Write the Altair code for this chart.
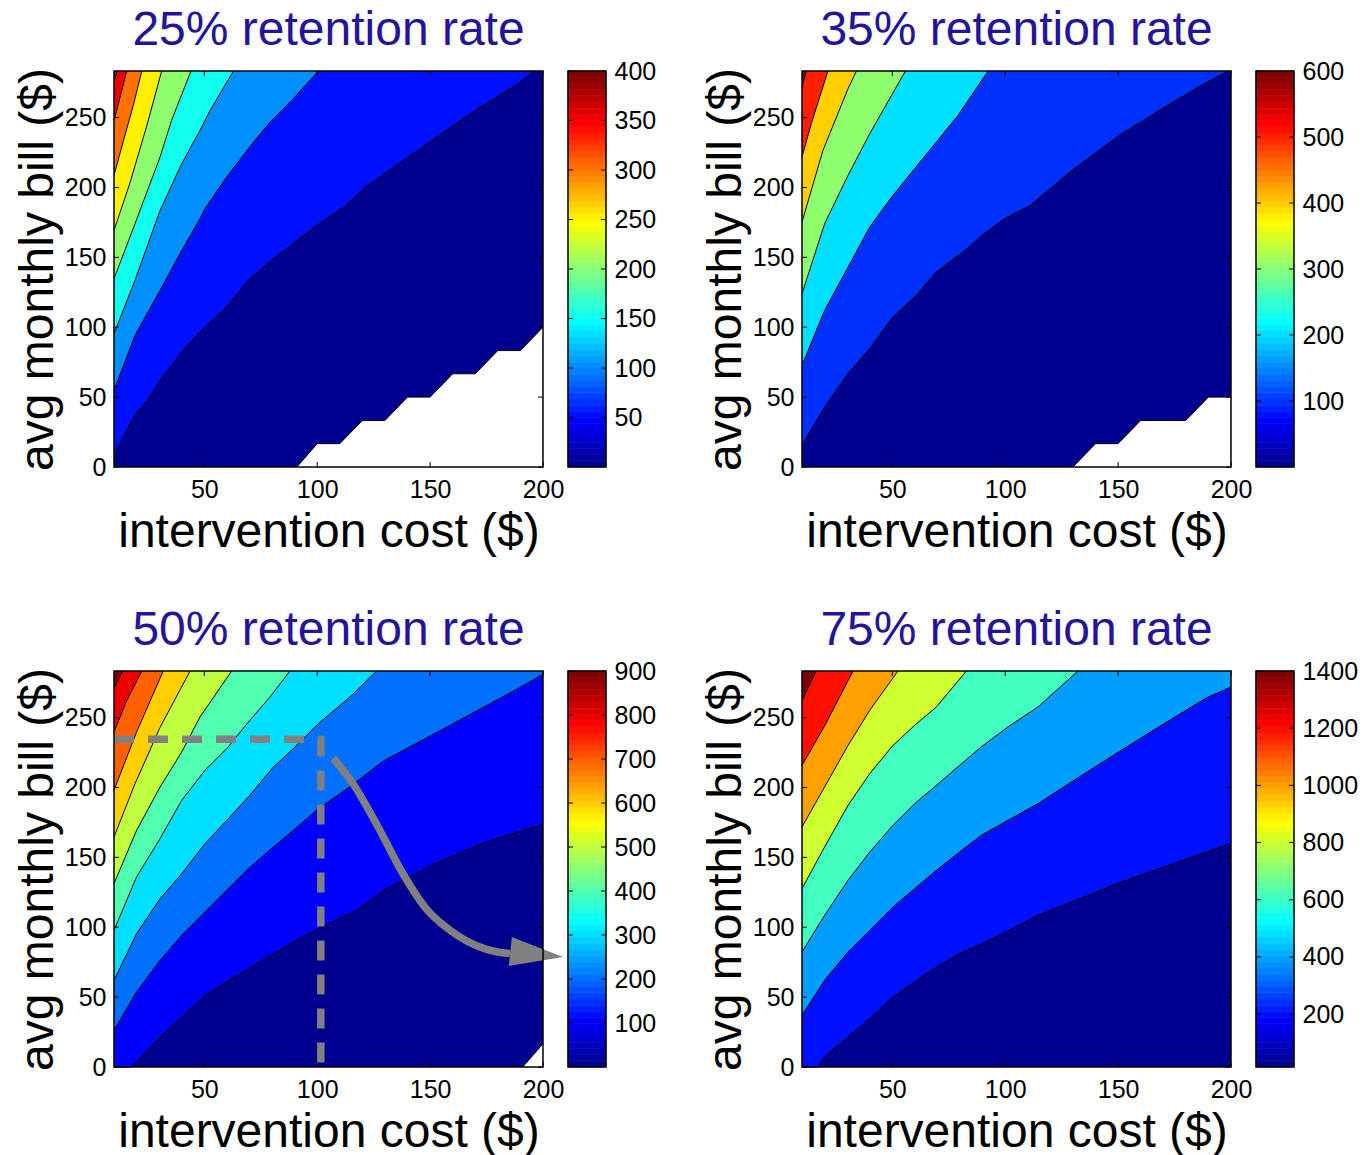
import altair as alt
import numpy as np
import pandas as pd

# ---------------------------------------------------------------- axes extent
X_MIN, X_MAX = 10, 200          # intervention cost ($)
Y_MIN, Y_MAX = 0, 283.33        # avg monthly bill ($)
X_TICKS = [50, 100, 150, 200]
Y_TICKS = [0, 50, 100, 150, 200, 250]

# ------------------------------------------------ contour lines (cost, bill)
# 25% retention rate
R25_CLIM = (0, 400)
R25_CBAR_TICKS = [50, 100, 150, 200, 250, 300, 350, 400]
R25_EMPTY = [(91, 0), (100, 16.7), (110, 16.7), (120, 33.3), (130, 33.3), (140, 50),
             (150, 50), (160, 66.7), (170, 66.7), (180, 83.3), (190, 83.3), (200, 100)]
R25_LEVELS = {
    50: [(10, 7.2), (14.1, 21.5), (19.3, 37), (25.9, 50), (30.4, 62), (40, 82.3),
         (48.1, 96.6), (59.9, 114.5), (69.5, 133.6), (80.6, 149), (89.4, 160),
         (100, 173), (111.9, 186), (120.5, 199), (130.9, 211), (140.5, 222),
         (150.1, 232.6), (160.4, 244.5), (170.7, 255.8), (181.1, 266.1),
         (190.7, 276.3), (196, 283.33)],
    100: [(10, 54.9), (19.3, 94.2), (29.6, 124), (39.2, 152.6), (48.1, 177.7),
          (50.3, 184.8), (59.9, 207.5), (69.5, 227.8), (79.1, 246.8), (88.7, 262.3),
          (100.5, 283.33)],
    150: [(10, 95.4), (19.3, 133.6), (30.4, 183.6), (40, 217), (48.1, 240.9),
          (52.5, 255), (62.9, 283.33)],
    200: [(10, 134.7), (19.3, 174), (30.4, 221.8), (35.5, 248), (44.1, 283.33)],
    250: [(10, 169.3), (17.1, 203.4), (24.5, 244), (31.1, 283.33)],
    300: [(10, 208.7), (14.1, 233), (18.6, 259), (22.3, 283.33)],
    350: [(10, 248), (12.7, 264.7), (15.6, 283.33)],
    400: [(10, 276), (11.5, 283.33)],
}

# 35% retention rate
R35_CLIM = (0, 600)
R35_CBAR_TICKS = [100, 200, 300, 400, 500, 600]
R35_EMPTY = [(130, 0), (140, 16.7), (150, 16.7), (160, 33.3), (180, 33.3),
             (190, 50), (200, 50)]
R35_LEVELS = {
    100: [(10, 15.5), (20, 42.9), (30.4, 66.8), (40, 84.7), (50.3, 107.3),
          (59.9, 121.6), (69.5, 139.5), (81.3, 153.8), (90, 166), (100, 178),
          (111, 187), (130.2, 213), (150.8, 237.5), (171.5, 258.3), (186.3, 272.6),
          (198.8, 283.33)],
    200: [(10, 72.7), (20, 112), (30.4, 143), (40, 171.7), (50.3, 194.4),
          (59.9, 213.5), (69.5, 232.5), (79.1, 251.6), (92.4, 283.33)],
    300: [(10, 124), (20, 174), (30.4, 208.7), (40, 238.5), (55.8, 283.33)],
    400: [(10, 175.3), (19.3, 226.6), (30.4, 270.7), (34.1, 283.33)],
    500: [(10, 221.8), (14.1, 245.6), (21.5, 283.33)],
    600: [(10, 272), (11.9, 283.33)],
}

# 50% retention rate
R50_CLIM = (0, 900)
R50_CBAR_TICKS = [100, 200, 300, 400, 500, 600, 700, 800, 900]
R50_EMPTY = [(191, 0), (200, 16.7)]
R50_LEVELS = {
    100: [(10, 0), (17.8, 0), (30.4, 21.5), (40, 35.8), (50.3, 51.3), (59.9, 60.8),
          (69.5, 70.4), (80.6, 81.1), (89.4, 89.4), (100.5, 99), (117.5, 112.1),
          (130, 127), (151.4, 145), (173.6, 160.5), (200, 173.7)],
    200: [(10, 26.2), (20, 53.7), (30.4, 76.3), (40, 94.2), (50.3, 110.9),
          (59.9, 126.4), (69.5, 141.9), (80.6, 157.4), (89.4, 169.3), (100.5, 184.8),
          (113, 198.7), (129.3, 218.9), (150, 236.8), (170.6, 254.7), (188.3, 270.2),
          (200, 281)],
    300: [(10, 62), (20, 95.4), (30.4, 120.4), (40, 138.3), (50.3, 159.8),
          (59.9, 176.5), (69.5, 193.2), (80.6, 214.6), (89.4, 227.8), (100.5, 245.6),
          (114.5, 264.7), (126.3, 283.33)],
    400: [(10, 97.8), (20, 136), (30.4, 163.4), (40, 190.8), (50.3, 212.3),
          (59.9, 227.8), (69.5, 246.8), (79.1, 264.7), (87.9, 283.33)],
    500: [(10, 131.2), (20, 169.3), (30.4, 200.3), (40, 225.4), (48.1, 250.4),
          (62.1, 283.33)],
    600: [(10, 164.6), (19.3, 202.7), (30.4, 243), (43.7, 283.33)],
    700: [(10, 198), (20, 239.7), (31.8, 283.33)],
    800: [(10, 239.7), (15.6, 262), (22.3, 283.33)],
    900: [(10, 271), (13.8, 283.33)],
}
# break-even guide and arrow drawn on the 50% panel
R50_GUIDE = [(10, 234.5), (101.6, 234.5), (101.6, 0)]
R50_ARROW = [(107.1, 220.9), (116, 202.3), (126.3, 173.7), (138.1, 137.9),
             (148.5, 112.8), (157.3, 99.7), (166.2, 90.2), (175, 84.2), (185.4, 81.1)]
R50_ARROW_HEAD = (197.2, 80.7)

# 75% retention rate
R75_CLIM = (15, 1400)
R75_CBAR_TICKS = [200, 400, 600, 800, 1000, 1200, 1400]
R75_EMPTY = []
R75_LEVELS = {
    200: [(10, 0), (17.1, 0), (20, 7.2), (30.4, 21.5), (40, 34.6), (50.3, 50.1),
          (59.9, 60.8), (69.5, 71.5), (79.8, 81.1), (89.4, 88), (100.8, 97),
          (114.5, 108.5), (131, 119), (150.8, 132), (170, 142.8), (200, 160)],
    400: [(10, 37), (20, 62), (30.4, 82.3), (40, 97.8), (50.3, 114.5), (59.9, 127.6),
          (69.5, 140.7), (79.8, 153.8), (89.4, 165.8), (101.2, 176.5), (114.5, 188.4),
          (131.8, 206.5), (150.8, 226), (168.6, 243.9), (189.2, 264.2), (200, 271.9)],
    600: [(10, 82.3), (20, 108.5), (30.4, 133.6), (40, 153.8), (50.3, 172.9),
          (59.9, 188.4), (69.5, 201.5), (79.8, 215.8), (89.4, 229), (101.2, 243.3),
          (114.5, 257.6), (132.2, 283.33)],
    800: [(10, 127.6), (20, 157.4), (30.4, 187.2), (40, 209.9), (50.3, 230.1),
          (59.9, 244.5), (69.5, 257.6), (82.8, 283.33)],
    1000: [(10, 171.7), (20, 200.3), (30.4, 230.1), (40, 255.2), (52.5, 283.33)],
    1200: [(10, 215.8), (20, 244), (32.6, 283.33)],
    1400: [(10, 262.3), (16.3, 283.33)],
}

# ---------------------------------------------------------------- styling
FONT = "Liberation Sans"
TITLE_COLOR = "#24149B"
GUIDE_GRAY = "#808080"
W, H = 429, 396          # contour panel
CB_W = 38                # colour bar
GAP = 25                 # panel -> colour bar
PANEL_GAP = 196          # colour bar -> next panel
ROW_GAP = 204
TICK_LEN = 5


def jet_hex(n=64):
    """MATLAB-style jet colormap as hex strings."""
    m = int(np.ceil(n / 4))
    u = np.concatenate([np.arange(1, m + 1) / m, np.ones(m - 1), np.arange(m, 0, -1) / m])
    g = int(np.ceil(m / 2)) - (1 if n % 4 == 1 else 0) + np.arange(1, len(u) + 1)
    r, b = g + m, g - m
    cmap = np.zeros((n, 3))
    for col, idx in ((0, r), (1, g), (2, b)):
        ok = (idx >= 1) & (idx <= n)
        cmap[idx[ok] - 1, col] = u[ok]
    return ["#%02x%02x%02x" % tuple(int(round(c * 255)) for c in row) for row in cmap]


JET = jet_hex(64)


def band_color(level, clim):
    cmin, cmax = clim
    i = int(np.floor((level - cmin) / (cmax - cmin) * 64))
    return JET[min(max(i, 0), 63)]


X_SCALE = alt.Scale(domain=[X_MIN, X_MAX], nice=False, zero=False)
Y_SCALE = alt.Scale(domain=[Y_MIN, Y_MAX], nice=False, zero=False)
X_AXIS = alt.Axis(values=X_TICKS, tickSize=0, labelPadding=10, domain=False, grid=False,
                  labelFontSize=25, labelFlush=False, labelOverlap=False,
                  titleFontSize=48, titleFontWeight="normal", titlePadding=6)
Y_AXIS = alt.Axis(values=Y_TICKS, tickSize=0, labelPadding=8, domain=False, grid=False,
                  labelFontSize=25, labelFlush=False, labelOverlap=False,
                  titleFontSize=48, titleFontWeight="normal", titlePadding=2)


def xenc(field="x"):
    return alt.X(f"{field}:Q", scale=X_SCALE, axis=X_AXIS, title="intervention cost ($)")


def yenc(field="y"):
    return alt.Y(f"{field}:Q", scale=Y_SCALE, axis=Y_AXIS, title="avg monthly bill ($)")


def contour_view(title, levels, empty, clim, extras=()):
    box = pd.DataFrame({"x": [X_MIN], "x2": [X_MAX], "y": [Y_MIN], "y2": [Y_MAX]})
    layers = [alt.Chart(box).mark_rect(color=band_color(0, clim)).encode(
        x=xenc(), x2="x2:Q", y=yenc(), y2="y2:Q")]
    curves = []
    for lev in sorted(levels):
        df = pd.DataFrame(levels[lev], columns=["x", "y"])
        df["top"] = Y_MAX
        layers.append(alt.Chart(df).mark_area(color=band_color(lev, clim)).encode(
            x=xenc(), y=yenc(), y2="top:Q"))
        curves.append(df)
    if empty:
        df = pd.DataFrame(empty, columns=["x", "y"])
        df["bottom"] = Y_MIN
        layers.append(alt.Chart(df).mark_area(color="white").encode(
            x=xenc(), y=yenc(), y2="bottom:Q"))
        curves.append(df)
    for df in curves:
        layers.append(alt.Chart(df).mark_line(color="black", strokeWidth=1).encode(
            x=xenc(), y=yenc()))
    layers.extend(extras)
    # inward ticks on all four sides, then the frame
    xt = pd.DataFrame({"x": X_TICKS})
    yt = pd.DataFrame({"y": Y_TICKS})
    layers += [
        alt.Chart(xt).mark_rule(color="black").encode(x=xenc(), y=alt.value(H), y2=alt.value(H - TICK_LEN)),
        alt.Chart(xt).mark_rule(color="black").encode(x=xenc(), y=alt.value(0), y2=alt.value(TICK_LEN)),
        alt.Chart(yt).mark_rule(color="black").encode(y=yenc(), x=alt.value(0), x2=alt.value(TICK_LEN)),
        alt.Chart(yt).mark_rule(color="black").encode(y=yenc(), x=alt.value(W), x2=alt.value(W - TICK_LEN)),
        alt.Chart(box).mark_rect(fillOpacity=0, stroke="black", strokeWidth=1.5).encode(
            x=xenc(), x2="x2:Q", y=yenc(), y2="y2:Q"),
    ]
    return alt.layer(*layers).properties(
        width=W, height=H,
        title=alt.TitleParams(title, fontSize=48, fontWeight="normal", color=TITLE_COLOR,
                              anchor="middle", offset=13, font=FONT))


def colorbar(clim, ticks):
    cmin, cmax = clim
    edges = np.linspace(cmin, cmax, len(JET) + 1)
    df = pd.DataFrame({"v0": edges[:-1], "v1": edges[1:], "c": JET})
    ys = alt.Scale(domain=[cmin, cmax], nice=False, zero=False)
    ax = alt.Axis(orient="right", values=ticks, tickSize=0, labelPadding=8, domain=False,
                  grid=False, labelFontSize=25, labelFlush=False, labelOverlap=False,
                  format="d")
    yv = lambda f: alt.Y(f"{f}:Q", scale=ys, axis=ax, title=None)
    td = pd.DataFrame({"t": ticks})
    box = pd.DataFrame({"a": [cmin], "b": [cmax]})
    return alt.layer(
        alt.Chart(df).mark_rect(strokeWidth=0.6).encode(
            y=yv("v0"), y2="v1:Q", x=alt.value(0), x2=alt.value(CB_W),
            color=alt.Color("c:N", scale=None), stroke=alt.Stroke("c:N", scale=None)),
        alt.Chart(td).mark_rule(color="black").encode(y=yv("t"), x=alt.value(0), x2=alt.value(TICK_LEN)),
        alt.Chart(td).mark_rule(color="black").encode(y=yv("t"), x=alt.value(CB_W - TICK_LEN), x2=alt.value(CB_W)),
        alt.Chart(box).mark_rect(fillOpacity=0, stroke="black", strokeWidth=1.5).encode(
            y=yv("a"), y2="b:Q", x=alt.value(0), x2=alt.value(CB_W)),
    ).properties(width=CB_W, height=H)


def spacer():
    return alt.Chart(pd.DataFrame({"s": [0]})).mark_point(opacity=0).encode(
        x=alt.value(0), y=alt.value(0)).properties(width=PANEL_GAP - 2 * GAP, height=H)


# guide lines and arrow on the 50% panel
guide = pd.DataFrame(R50_GUIDE, columns=["x", "y"])
guide["i"] = range(len(guide))
arrow = pd.DataFrame(R50_ARROW, columns=["x", "y"])
head = pd.DataFrame([R50_ARROW_HEAD], columns=["x", "y"])
r50_extras = [
    alt.Chart(guide).mark_line(color=GUIDE_GRAY, strokeWidth=7.5, strokeDash=[20, 14],
                               strokeCap="butt").encode(x=xenc(), y=yenc(), order="i:O"),
    alt.Chart(arrow).mark_line(color=GUIDE_GRAY, strokeWidth=7.5, interpolate="monotone",
                               strokeCap="butt").encode(x=xenc(), y=yenc()),
    alt.Chart(head).mark_point(shape="M -1 -0.55 L 1 0 L -1 0.55 Z", filled=True, size=53 ** 2,
                               angle=6, color=GUIDE_GRAY, opacity=1, strokeWidth=0).encode(
        x=xenc(), y=yenc()),
]

cells = [
    contour_view("25% retention rate", R25_LEVELS, R25_EMPTY, R25_CLIM),
    colorbar(R25_CLIM, R25_CBAR_TICKS),
    spacer(),
    contour_view("35% retention rate", R35_LEVELS, R35_EMPTY, R35_CLIM),
    colorbar(R35_CLIM, R35_CBAR_TICKS),
    contour_view("50% retention rate", R50_LEVELS, R50_EMPTY, R50_CLIM, r50_extras),
    colorbar(R50_CLIM, R50_CBAR_TICKS),
    spacer(),
    contour_view("75% retention rate", R75_LEVELS, R75_EMPTY, R75_CLIM),
    colorbar(R75_CLIM, R75_CBAR_TICKS),
]

chart = (
    alt.concat(*cells, columns=5, spacing={"row": ROW_GAP, "column": GAP}, bounds="flush")
    .resolve_scale(x="independent", y="independent")
    .properties(padding={"left": 14, "top": 6, "right": 0, "bottom": 0})
    .configure(font=FONT)
    .configure_view(stroke=None)
    .configure_axis(labelFont=FONT, titleFont=FONT, labelColor="black", titleColor="black")
)

chart.save("out.html", embed_options={"renderer": "svg", "actions": False})
